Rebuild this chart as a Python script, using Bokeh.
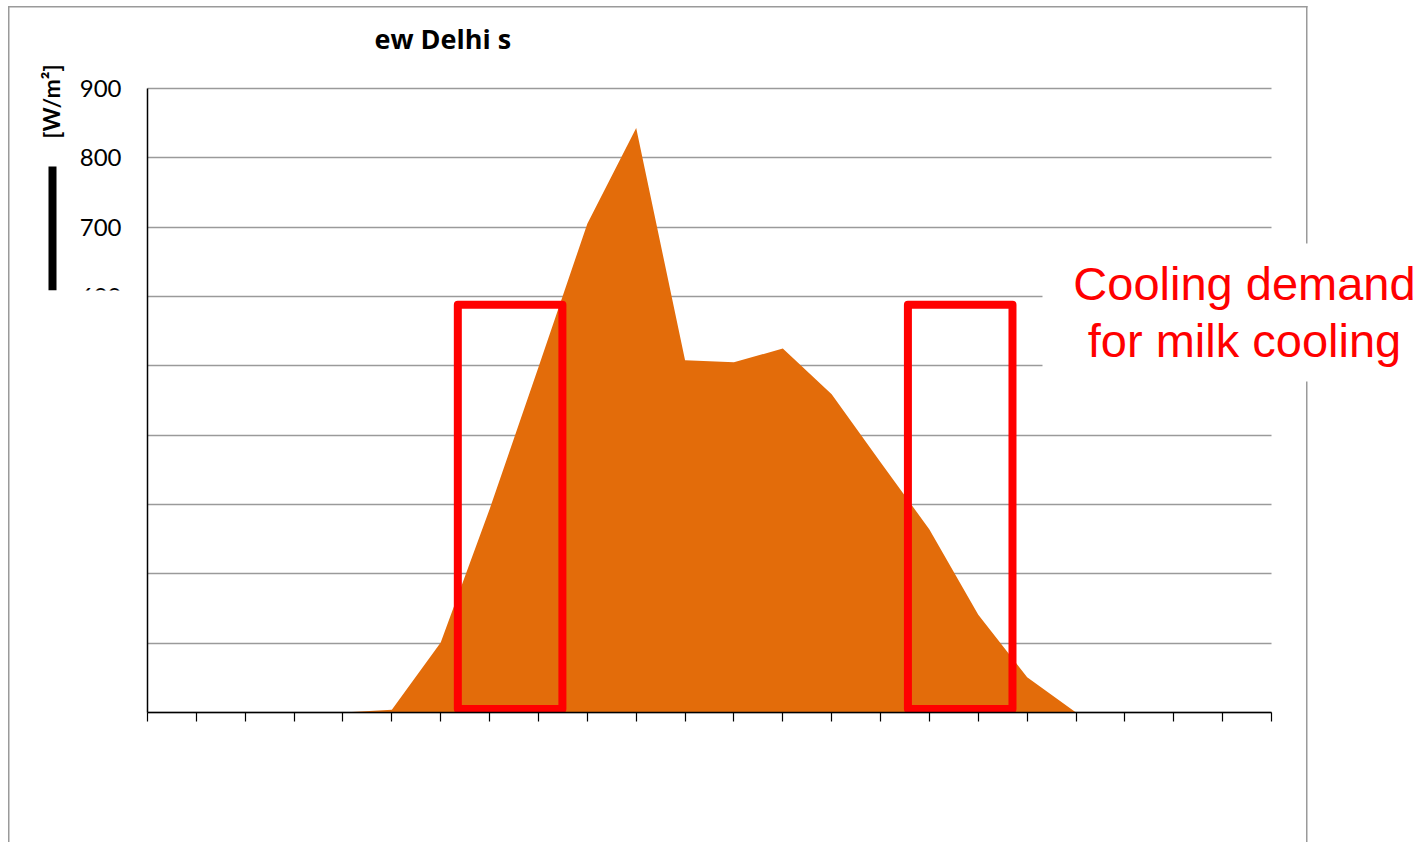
import numpy as np
from bokeh.plotting import figure
from bokeh.models import FixedTicker, Label, BoxAnnotation, Range1d, LinearAxis, Grid
from bokeh.embed import file_html
from bokeh.resources import INLINE

# ---- data ----
hours = list(range(24))
irradiance = [0, 0, 0, 0, 0, 4, 101, 293, 498, 705, 843, 508, 505, 525, 459, 361, 264, 141, 51, 0, 0, 0, 0, 0]
y_ticks = [0, 100, 200, 300, 400, 500, 600, 700, 800, 900]
y_labelled_ticks = [600, 700, 800, 900]
# cooling-demand windows (hours) and their height (W/m²)
box_left = [6.35, 15.56]
box_right = [8.49, 17.70]
box_bottom = [5, 5]
box_top = [588, 588]
title_text = "ew Delhi s"
y_label = "[W/m\u00b2]"
note_line1 = "Cooling demand"
note_line2 = "for milk cooling"

W, H = 1425, 842
# plot area of the chart inside the canvas (pixels)
X0, X1, Y0, Y1 = 147, 1271, 712, 88
sx = (X1 - X0) / 23.0
sy = (Y0 - Y1) / 900.0

def dx(px):
    return (px - X0) / sx

def dy(py):
    return (Y0 - py) / sy

p = figure(width=W, height=H, output_backend="svg", toolbar_location=None,
           x_range=Range1d(dx(0), dx(W)), y_range=Range1d(dy(H), dy(0)),
           x_axis_type=None, y_axis_type=None,
           min_border=0, min_border_left=0, min_border_right=0,
           min_border_top=0, min_border_bottom=0)
p.outline_line_color = None
p.background_fill_color = "white"
p.border_fill_color = "white"
p.xgrid.grid_line_color = None
p.ygrid.grid_line_color = None

# grid lines
yg = Grid(dimension=1, ticker=FixedTicker(ticks=y_ticks), grid_line_color="#9a9a9a",
          grid_line_width=1.5)
try:
    yg.cross_bounds = (0, 23)
    cover_grid = False
except Exception:
    cover_grid = True
p.add_layout(yg, "center")
if cover_grid:
    p.add_layout(BoxAnnotation(left=dx(0), right=dx(X0 - 1), top=dy(0), bottom=dy(H),
                               fill_color="white", fill_alpha=1, line_color=None, level="underlay"))
    p.add_layout(BoxAnnotation(left=dx(X1 + 1), right=dx(W), top=dy(0), bottom=dy(H),
                               fill_color="white", fill_alpha=1, line_color=None, level="underlay"))

p.varea(x=hours, y1=0, y2=irradiance, fill_color="#E36C0A")

p.quad(left=box_left, right=box_right, bottom=box_bottom, top=box_top,
       fill_color=None, line_color="#FF0000", line_width=8, line_join="round")

# axes
xa = LinearAxis(ticker=FixedTicker(ticks=hours), fixed_location=0, bounds=(0, 23))
xa.major_label_overrides = {h: "" for h in hours}
xa.major_tick_out = 9
xa.major_tick_in = 0
xa.minor_tick_line_color = None
xa.axis_line_color = "black"
xa.axis_line_width = 1.5
xa.major_tick_line_color = "black"
xa.major_tick_line_width = 1.2
p.add_layout(xa, "below")

ya = LinearAxis(ticker=FixedTicker(ticks=y_labelled_ticks), fixed_location=0, bounds=(0, 900))
ya.major_label_text_font = "Lato"
ya.major_label_text_font_size = "24px"
ya.major_label_text_color = "black"
ya.major_label_standoff = 26
ya.major_tick_out = 0
ya.major_tick_in = 0
ya.minor_tick_line_color = None
ya.axis_line_color = "black"
ya.axis_line_width = 1.5
p.add_layout(ya, "left")

# title
p.add_layout(Label(x=dx(374), y=dy(38), text=title_text, text_font="Open Sans",
                   text_font_style="bold", text_font_size="27px", text_align="left",
                   text_baseline="alphabetic", text_color="black"))
# y label (rotated)
p.add_layout(Label(x=dx(50), y=dy(101), text=y_label, text_font="Lato",
                   text_font_style="bold", text_font_size="23px", angle=np.pi / 2,
                   text_align="center", text_baseline="middle", text_color="black"))
# clipped remains of the axis title
p.add_layout(BoxAnnotation(left=dx(48), right=dx(56), top=dy(166), bottom=dy(290),
                           fill_color="black", fill_alpha=1, line_color=None))
# white cover over lower y labels
p.add_layout(BoxAnnotation(left=dx(12), right=dx(144), top=dy(290), bottom=dy(H),
                           fill_color="white", fill_alpha=1, line_color=None))
# outer frame lines
grey = "#9a9a9a"
p.add_layout(BoxAnnotation(left=dx(7.5), right=dx(9), top=dy(5.5), bottom=dy(H),
                           fill_color=grey, fill_alpha=1, line_color=None))
p.add_layout(BoxAnnotation(left=dx(7.5), right=dx(1307), top=dy(5.5), bottom=dy(7),
                           fill_color=grey, fill_alpha=1, line_color=None))
p.add_layout(BoxAnnotation(left=dx(1305.5), right=dx(1307), top=dy(5.5), bottom=dy(H),
                           fill_color=grey, fill_alpha=1, line_color=None))
# white box behind note
p.add_layout(BoxAnnotation(left=dx(1042), right=dx(W), top=dy(243), bottom=dy(381),
                           fill_color="white", fill_alpha=1, line_color=None))
p.add_layout(Label(x=dx(1244), y=dy(283), text=note_line1, text_font="Liberation Sans",
                   text_font_size="47px", text_align="center", text_baseline="alphabetic",
                   text_color="#FF0000"))
p.add_layout(Label(x=dx(1244), y=dy(340), text=note_line2, text_font="Liberation Sans",
                   text_font_size="47px", text_align="center", text_baseline="alphabetic",
                   text_color="#FF0000"))

open("out.html", "w").write(file_html(p, INLINE))
